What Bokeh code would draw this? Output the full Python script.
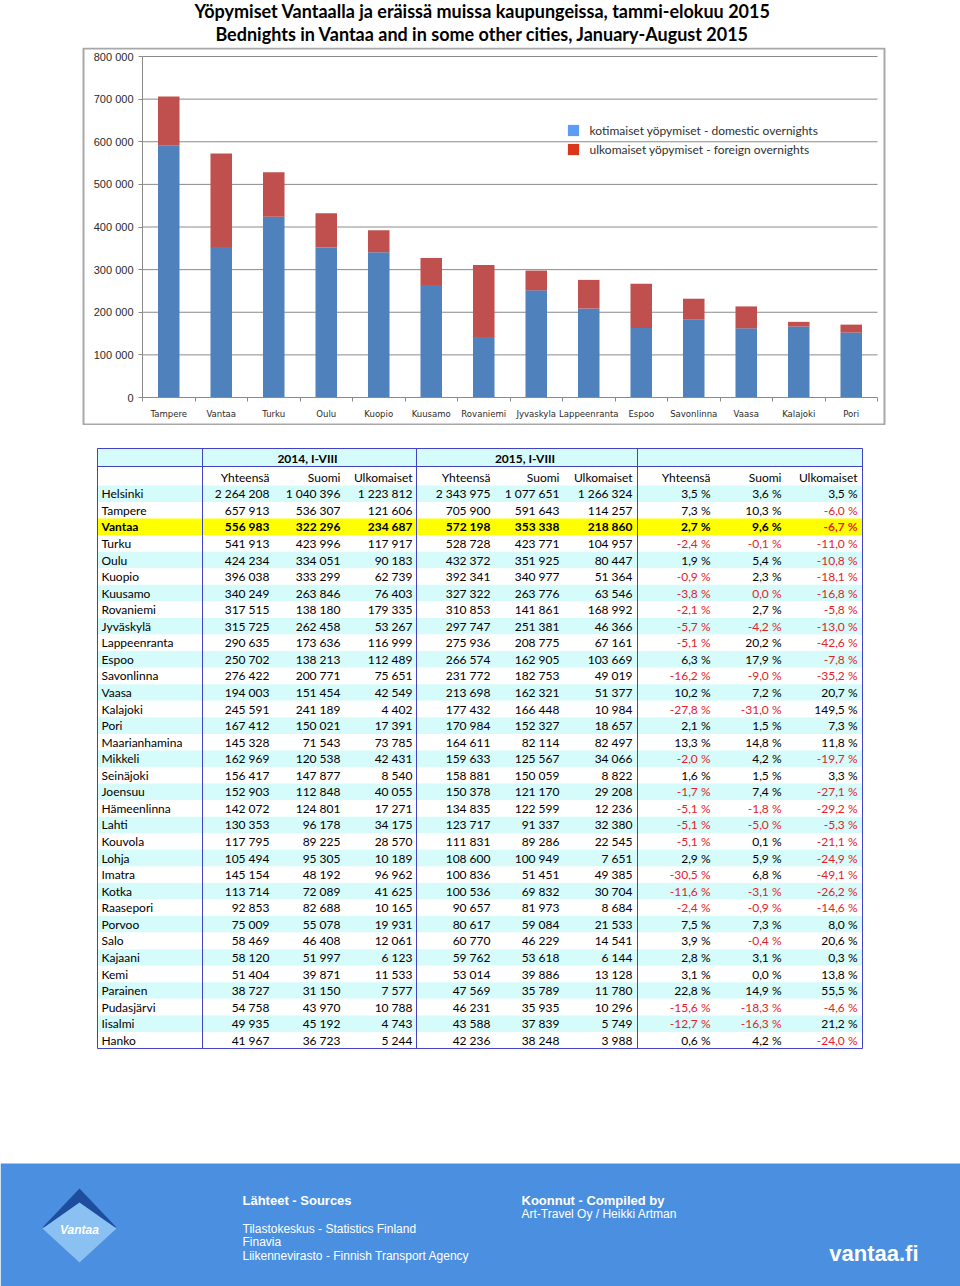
from bokeh.plotting import figure
from bokeh.models import Range1d, LinearAxis, FixedTicker, ColumnDataSource, Legend, LegendItem
from bokeh.layouts import column
from bokeh.embed import file_html
from bokeh.resources import INLINE
from bokeh.core.properties import value

# ---------------- data ----------------
title_fi = "Yöpymiset Vantaalla ja eräissä muissa kaupungeissa, tammi-elokuu 2015"
title_en = "Bednights in Vantaa and in some other cities, January-August 2015"

chart_labels = ["Tampere", "Vantaa", "Turku", "Oulu", "Kuopio", "Kuusamo", "Rovaniemi",
                "Jyvaskyla", "Lappeenranta", "Espoo", "Savonlinna", "Vaasa", "Kalajoki", "Pori"]
chart_domestic = [591643, 353338, 423771, 351925, 340977, 263776, 141861,
                  251381, 208775, 162905, 182753, 162321, 166448, 152327]
chart_foreign = [114257, 218860, 104957, 80447, 51364, 63546, 168992,
                 46366, 67161, 103669, 49019, 51377, 10984, 18657]
y_ticks = [0, 100000, 200000, 300000, 400000, 500000, 600000, 700000, 800000]
y_tick_labels = ["0", "100 000", "200 000", "300 000", "400 000", "500 000",
                 "600 000", "700 000", "800 000"]
legend_labels = ["kotimaiset yöpymiset - domestic overnights",
                 "ulkomaiset yöpymiset - foreign overnights"]

group_headers = ["2014, I-VIII", "2015, I-VIII", ""]
col_headers = ["Yhteensä", "Suomi", "Ulkomaiset", "Yhteensä", "Suomi", "Ulkomaiset",
               "Yhteensä", "Suomi", "Ulkomaiset"]

cities = ["Helsinki", "Tampere", "Vantaa", "Turku", "Oulu", "Kuopio", "Kuusamo", "Rovaniemi",
          "Jyväskylä", "Lappeenranta", "Espoo", "Savonlinna", "Vaasa", "Kalajoki", "Pori",
          "Maarianhamina", "Mikkeli", "Seinäjoki", "Joensuu", "Hämeenlinna", "Lahti", "Kouvola",
          "Lohja", "Imatra", "Kotka", "Raasepori", "Porvoo", "Salo", "Kajaani", "Kemi",
          "Parainen", "Pudasjärvi", "Iisalmi", "Hanko"]
total_2014 = [2264208, 657913, 556983, 541913, 424234, 396038, 340249, 317515, 315725, 290635,
              250702, 276422, 194003, 245591, 167412, 145328, 162969, 156417, 152903, 142072,
              130353, 117795, 105494, 145154, 113714, 92853, 75009, 58469, 58120, 51404,
              38727, 54758, 49935, 41967]
domestic_2014 = [1040396, 536307, 322296, 423996, 334051, 333299, 263846, 138180, 262458, 173636,
                 138213, 200771, 151454, 241189, 150021, 71543, 120538, 147877, 112848, 124801,
                 96178, 89225, 95305, 48192, 72089, 82688, 55078, 46408, 51997, 39871,
                 31150, 43970, 45192, 36723]
foreign_2014 = [1223812, 121606, 234687, 117917, 90183, 62739, 76403, 179335, 53267, 116999,
                112489, 75651, 42549, 4402, 17391, 73785, 42431, 8540, 40055, 17271,
                34175, 28570, 10189, 96962, 41625, 10165, 19931, 12061, 6123, 11533,
                7577, 10788, 4743, 5244]
total_2015 = [2343975, 705900, 572198, 528728, 432372, 392341, 327322, 310853, 297747, 275936,
              266574, 231772, 213698, 177432, 170984, 164611, 159633, 158881, 150378, 134835,
              123717, 111831, 108600, 100836, 100536, 90657, 80617, 60770, 59762, 53014,
              47569, 46231, 43588, 42236]
domestic_2015 = [1077651, 591643, 353338, 423771, 351925, 340977, 263776, 141861, 251381, 208775,
                 162905, 182753, 162321, 166448, 152327, 82114, 125567, 150059, 121170, 122599,
                 91337, 89286, 100949, 51451, 69832, 81973, 59084, 46229, 53618, 39886,
                 35789, 35935, 37839, 38248]
foreign_2015 = [1266324, 114257, 218860, 104957, 80447, 51364, 63546, 168992, 46366, 67161,
                103669, 49019, 51377, 10984, 18657, 82497, 34066, 8822, 29208, 12236,
                32380, 22545, 7651, 49385, 30704, 8684, 21533, 14541, 6144, 13128,
                11780, 10296, 5749, 3988]
change_total = [3.5, 7.3, 2.7, -2.4, 1.9, -0.9, -3.8, -2.1, -5.7, -5.1, 6.3, -16.2, 10.2, -27.8,
                2.1, 13.3, -2.0, 1.6, -1.7, -5.1, -5.1, -5.1, 2.9, -30.5, -11.6, -2.4, 7.5,
                3.9, 2.8, 3.1, 22.8, -15.6, -12.7, 0.6]
change_domestic = [3.6, 10.3, 9.6, -0.1, 5.4, 2.3, 0.0, 2.7, -4.2, 20.2, 17.9, -9.0, 7.2, -31.0,
                   1.5, 14.8, 4.2, 1.5, 7.4, -1.8, -5.0, 0.1, 5.9, 6.8, -3.1, -0.9, 7.3,
                   -0.4, 3.1, 0.0, 14.9, -18.3, -16.3, 4.2]
change_foreign = [3.5, -6.0, -6.7, -11.0, -10.8, -18.1, -16.8, -5.8, -13.0, -42.6, -7.8, -35.2,
                  20.7, 149.5, 7.3, 11.8, -19.7, 3.3, -27.1, -29.2, -5.3, -21.1, -24.9, -49.1,
                  -26.2, -14.6, 8.0, 20.6, 0.3, 13.8, 55.5, -4.6, 21.2, -24.0]
highlight_city = "Vantaa"

footer_sources_title = "Lähteet - Sources"
footer_sources = ["Tilastokeskus - Statistics Finland", "Finavia",
                  "Liikennevirasto - Finnish Transport Agency"]
footer_compiled = ["Koonnut - Compiled by", "Art-Travel Oy / Heikki Artman"]
footer_site = "vantaa.fi"
logo_text = "Vantaa"

# ---------------- styles ----------------
PAGE_W = 960
PAGE_H = 1286
FONT = "Lato"
AXFONT = "Liberation Sans"
NARROW = "DejaVu Sans Condensed, Liberation Sans Narrow, Liberation Sans"
BLUE_BAR = "#4f81bd"
RED_BAR = "#c0504d"
LEG_COLORS = ["#5c9cf2", "#d9361a"]
GRID = "#8a8a8a"
CYAN = "#d6fbfb"
YELLOW = "#ffff00"
TBL_LINE = "#4242c4"
NEG_RED = "#e3222b"
FOOT_BLUE = "#4a8fe0"
NAN = float("nan")


def pixel_fig(top, bottom):
    f = figure(width=PAGE_W, height=bottom - top, x_range=Range1d(0, PAGE_W),
               y_range=Range1d(bottom, top), x_axis_type=None, y_axis_type=None,
               tools="", toolbar_location=None, output_backend="svg", min_border=0)
    f.outline_line_color = None
    f.background_fill_color = "white"
    f.border_fill_color = "white"
    return f


# ---------------- header ----------------
HDR_B = 47
hdr = pixel_fig(0, HDR_B)
hdr.text(x=[482, 482], y=[10.5, 33.5], text=[title_fi, title_en], text_font=value(FONT),
         text_font_style="bold", text_font_size="18px", text_align="center",
         text_baseline="middle", text_color="#000000")

# ---------------- bar chart ----------------
BOX_L, BOX_R, BOX_T, BOX_B = 82, 885, HDR_B, 425
AX_L, CAT_PX, ZERO_Y, TOP_Y = 142, 52.5, 397, 56
n = len(chart_labels)
upp = y_ticks[-1] / (ZERO_Y - TOP_Y)


def px_x(px):
    return -0.5 + (px - AX_L) / CAT_PX


def px_y(py):
    return (ZERO_Y - py) * upp


ch = figure(width=PAGE_W, height=BOX_B - BOX_T, x_range=Range1d(px_x(0), px_x(PAGE_W)),
            y_range=Range1d(px_y(BOX_B), px_y(BOX_T)), x_axis_type=None, y_axis_type=None,
            tools="", toolbar_location=None, output_backend="svg", min_border=0)
ch.outline_line_color = None
ch.background_fill_color = "white"
ch.border_fill_color = "white"

# chart box
ch.quad(left=[px_x(BOX_L + 1)], right=[px_x(BOX_R - 1)], top=[px_y(BOX_T + 1)],
        bottom=[px_y(BOX_B - 1)], fill_color=None, line_color="#a8a8a8", line_width=2)

# horizontal gridlines across the plot area
gy = y_ticks[1:]
ch.segment(x0=[-0.5] * len(gy), x1=[n - 0.5] * len(gy), y0=gy, y1=gy,
           line_color=GRID, line_width=1)

src = ColumnDataSource(dict(x=list(range(n)), dom=chart_domestic, fo=chart_foreign))
ch.vbar_stack(["dom", "fo"], x="x", width=0.41, color=[BLUE_BAR, RED_BAR], source=src,
              line_color=None)

yax = LinearAxis(fixed_location=-0.5, bounds=(y_ticks[0], y_ticks[-1]),
                 ticker=FixedTicker(ticks=y_ticks),
                 major_label_overrides={t: l for t, l in zip(y_ticks, y_tick_labels)})
yax.axis_line_color = GRID
yax.major_tick_line_color = GRID
yax.major_tick_in = 0
yax.major_tick_out = 4
yax.minor_tick_line_color = None
yax.major_label_standoff = 5
yax.major_label_text_font = AXFONT
yax.major_label_text_font_size = "11px"
yax.major_label_text_color = "#2a2a2a"
ch.add_layout(yax, "left")

xax = LinearAxis(fixed_location=0, bounds=(-0.5, n - 0.5),
                 ticker=FixedTicker(ticks=list(range(n)),
                                    minor_ticks=[i - 0.5 for i in range(n + 1)]),
                 major_label_overrides={i: l for i, l in enumerate(chart_labels)})
xax.axis_line_color = GRID
xax.major_tick_line_color = None
xax.major_tick_in = 0
xax.major_tick_out = 0
xax.minor_tick_line_color = GRID
xax.minor_tick_in = 0
xax.minor_tick_out = 4
xax.major_label_standoff = 6
xax.major_label_text_font = NARROW
xax.major_label_text_font_size = "9.5px"
xax.major_label_text_color = "#2a2a2a"
ch.add_layout(xax, "below")

# legend swatches (renderers with no drawable position)
r_dom = ch.quad(left=[NAN], right=[NAN], top=[NAN], bottom=[NAN],
                fill_color=LEG_COLORS[0], line_color=None)
r_for = ch.quad(left=[NAN], right=[NAN], top=[NAN], bottom=[NAN],
                fill_color=LEG_COLORS[1], line_color=None)
LEG_H = 32
leg = Legend(items=[LegendItem(label=legend_labels[0], renderers=[r_dom]),
                    LegendItem(label=legend_labels[1], renderers=[r_for])],
             location=(565.6, (BOX_B - 124.6) - LEG_H),
             glyph_width=14, glyph_height=14, label_height=14, label_width=10, spacing=4,
             padding=0, margin=0, label_standoff=10, border_line_color=None,
             background_fill_alpha=0, label_text_font=FONT, label_text_font_size="12px",
             label_text_color="#303030")
ch.add_layout(leg)

# ---------------- table + footer ----------------
tb = pixel_fig(BOX_B, PAGE_H)

T_L, T_R, T_TOP = 97, 862, 448
H1_B, H2_B = 466, 485
RH = 16.56
nrows = len(cities)
T_BOT = H2_B + nrows * RH
V_SEPS = [202, 416, 637]
COL_RIGHT = [269, 340, 412, 490, 559, 632, 710, 781, 857]

# backgrounds
bg_top = [T_TOP, H1_B] + [H2_B + i * RH for i in range(nrows)]
bg_bot = [H1_B, H2_B] + [H2_B + (i + 1) * RH for i in range(nrows)]
bg_col = [CYAN, "white"] + [YELLOW if c == highlight_city else (CYAN if i % 2 == 0 else "white")
                            for i, c in enumerate(cities)]
tb.quad(left=[T_L] * len(bg_top), right=[T_R] * len(bg_top), top=bg_top, bottom=bg_bot,
        fill_color=bg_col, line_color=None)

# borders
bx0 = [T_L, T_L, T_L, T_R] + V_SEPS + [T_L]
bx1 = [T_R, T_R, T_L, T_R] + V_SEPS + [T_R]
by0 = [T_TOP, T_BOT, T_TOP, T_TOP] + [T_TOP] * 3 + [H1_B]
by1 = [T_TOP, T_BOT, T_BOT, T_BOT] + [T_BOT] * 3 + [H1_B]
tb.segment(x0=bx0, x1=bx1, y0=by0, y1=by1, line_color=TBL_LINE, line_width=1)

# group headers
tb.text(x=[(V_SEPS[0] + V_SEPS[1]) / 2 - 2, (V_SEPS[1] + V_SEPS[2]) / 2 - 2, (V_SEPS[2] + T_R) / 2],
        y=[457.5] * 3, text=group_headers, text_font=value(FONT), text_font_style="bold",
        text_font_size="12px", text_align="center", text_baseline="middle", text_color="#000000")
tb.text(x=COL_RIGHT, y=[477] * 9, text=col_headers, text_font=value(FONT),
        text_font_size="12px", text_align="right", text_baseline="middle", text_color="#000000")


def fmt_int(v):
    return f"{v:,}".replace(",", " ")


def fmt_pct(v):
    return f"{abs(v) if v == 0 else v:.1f}".replace(".", ",") + " %"


cells = {False: dict(x=[], y=[], text=[], color=[]), True: dict(x=[], y=[], text=[], color=[])}
names = {False: dict(x=[], y=[], text=[]), True: dict(x=[], y=[], text=[])}
for i, c in enumerate(cities):
    y = H2_B + (i + 0.5) * RH
    bold = c == highlight_city
    names[bold]["x"].append(T_L + 4)
    names[bold]["y"].append(y)
    names[bold]["text"].append(c)
    nums = [total_2014[i], domestic_2014[i], foreign_2014[i],
            total_2015[i], domestic_2015[i], foreign_2015[i]]
    texts = [fmt_int(v) for v in nums]
    cols = ["#000000"] * 6
    pairs = [(total_2014[i], total_2015[i], change_total[i]),
             (domestic_2014[i], domestic_2015[i], change_domestic[i]),
             (foreign_2014[i], foreign_2015[i], change_foreign[i])]
    for a, b, p in pairs:
        texts.append(fmt_pct(p))
        cols.append(NEG_RED if b < a else "#000000")
    for xr, t, col in zip(COL_RIGHT, texts, cols):
        cells[bold]["x"].append(xr)
        cells[bold]["y"].append(y)
        cells[bold]["text"].append(t)
        cells[bold]["color"].append(col)

for bold in (False, True):
    st = "bold" if bold else "normal"
    tb.text(x="x", y="y", text="text", source=ColumnDataSource(names[bold]),
            text_font=value(FONT), text_font_style=st, text_font_size="12px",
            text_align="left", text_baseline="middle", text_color="#000000")
    tb.text(x="x", y="y", text="text", text_color="color", source=ColumnDataSource(cells[bold]),
            text_font=value(FONT), text_font_style=st, text_font_size="12px",
            text_align="right", text_baseline="middle")

# footer band
FOOT_T = 1163
tb.quad(left=[0], right=[PAGE_W], top=[FOOT_T], bottom=[PAGE_H], fill_color=FOOT_BLUE,
        line_color=None)

# logo
tb.patch(x=[79, 116, 42], y=[1188, 1227, 1227], fill_color="#1c4d9e", line_color=None)
tb.patch(x=[79, 116, 79, 42], y=[1202, 1228, 1262, 1228], fill_color="#8bc0f2", line_color=None)
tb.text(x=[79], y=[1229], text=[logo_text], text_font=value("Liberation Sans"),
        text_font_style="bold italic", text_font_size="12px", text_align="center",
        text_baseline="middle", text_color="white")

tb.text(x=[242, 521], y=[1200, 1200], text=[footer_sources_title, footer_compiled[0]],
        text_font=value("Liberation Sans"), text_font_style="bold", text_font_size="13px",
        text_align="left", text_baseline="middle", text_color="white")
tb.text(x=[242, 242, 242, 521], y=[1228, 1241, 1255, 1213],
        text=footer_sources + [footer_compiled[1]],
        text_font=value("Liberation Sans"), text_font_size="12px",
        text_align="left", text_baseline="middle", text_color="white")
tb.text(x=[918], y=[1253], text=[footer_site], text_font=value("Liberation Sans"),
        text_font_style="bold", text_font_size="22px", text_align="right",
        text_baseline="middle", text_color="white")

page = column(hdr, ch, tb, spacing=0)
open("out.html", "w").write(file_html(page, INLINE))
